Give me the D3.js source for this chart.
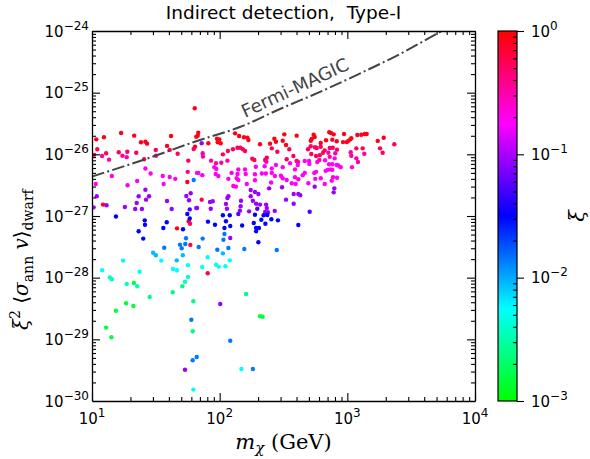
<!DOCTYPE html>
<html>
<head>
<meta charset="utf-8">
<script src="https://cdn.jsdelivr.net/npm/d3@7"></script>
<style>
  html, body { margin: 0; padding: 0; background: #fff; }
  svg { display: block; }
  text { white-space: pre; }
</style>
</head>
<body>
<svg id="chart" width="590" height="459"></svg>
<script>
// ---- data: [m_chi (GeV), xi^2 <sigma v>_dwarf] per colour band ----
const bandXi = [0.85, 0.55, 0.33, 0.19, 0.09, 0.055, 0.032, 0.014, 0.009, 0.0055, 0.0036, 0.0024, 0.0015];

const ptsRed = [[63.8,5.6e-26],[10.8,1.75e-26],[12.4,1.89e-26],[16.9,2.22e-26],[21.4,2.01e-26],[41.6,1.98e-26],[65.6,1.93e-26],[24.2,1.57e-26],[26.2,1.6e-26],[27.0,1.49e-26],[38.7,1.37e-26],[64.1,1.33e-26],[55.8,3.56e-27],[68.0,2.24e-26],[67.3,2.01e-26],[81.5,1.51e-26],[95.3,1.79e-26],[99.3,1.75e-26],[96.5,1.57e-26],[102,1.51e-26],[132,2.19e-26],[142,1.98e-26],[155,1.89e-26],[168,1.71e-26],[165,1.86e-26],[268,1.79e-26],[321,2.11e-26],[401,2.01e-26],[276,1.6e-26],[248,1.49e-26],[207,1.46e-26],[312,1.66e-26],[331,1.42e-26],[545,2.08e-26],[555,1.91e-26],[526,1.77e-26],[517,1.66e-26],[722,2.28e-26],[745,2.22e-26],[782,2.11e-26],[942,2.14e-26],[1197,2.06e-26],[1286,2.08e-26],[1368,2.14e-26],[1418,2.14e-26],[681,1.69e-26],[763,1.73e-26],[826,1.63e-26],[925,1.58e-26],[989,1.58e-26],[1018,1.65e-26],[1055,1.75e-26],[1074,1.82e-26],[1730,1.65e-26],[1927,1.86e-26],[619,1.53e-26],[12.2,1.53e-27],[57.2,8.2e-28],[46.3,6.3e-28]];

const ptsCrimson = [[40.6,1.18e-26],[62.6,1.22e-26],[11.0,1.21e-26],[31.6,1.18e-26],[12.9,1.04e-26],[16.2,1.08e-26],[18.9,1.1e-26],[22.2,1.06e-26],[10.4,9.8e-27],[46.9,1.02e-26],[25.6,8.3e-27],[56.8,7.9e-27],[256,1.25e-26],[283,1.1e-26],[351,1.21e-26],[138,1.28e-26],[145,1.28e-26],[152,1.21e-26],[158,1.13e-26],[127,1.21e-26],[116,1.13e-26],[106,1.0e-26],[180,8.5e-27],[187,8.1e-27],[234,8.8e-27],[227,8.1e-27],[378,9.4e-27],[401,7.8e-27],[335,8.3e-27],[2333,1.46e-26],[492,1.21e-26],[517,1.35e-26],[558,1.3e-26],[576,1.27e-26],[619,1.33e-26],[665,1.16e-26],[728,1.27e-26],[768,1.28e-26],[830,1.19e-26],[1176,1.25e-26],[1319,1.25e-26],[1803,1.25e-26],[1892,1.06e-26],[522,1.01e-26],[569,9.4e-27],[608,9.7e-27],[645,1.06e-26],[58.6,7.5e-28],[58.9,3.4e-28],[72.3,1.84e-27],[80.6,1.18e-28]];

const ptsPink = [[12.0,9.4e-27],[17.3,9.5e-27],[18.7,9.0e-27],[31.7,9.5e-27],[13.6,8.2e-27],[56.2,5.2e-27],[73.6,1.04e-26],[74.0,9.2e-27],[85.6,7.9e-27],[115,7.9e-27],[93.6,7.2e-27],[103,7.3e-27],[232,7.6e-27],[710,1.06e-26],[728,9.1e-27],[805,1.04e-26],[1063,1.08e-26],[1074,9.5e-27],[1176,8.6e-27],[1212,7.5e-27],[1358,1.02e-26],[603,8.1e-27],[411,7.5e-27]];

const ptsMagenta = [[26.2,5.9e-27],[28.8,4.9e-27],[14.3,4.45e-27],[35.8,4.45e-27],[40.6,4.3e-27],[44.9,4.0e-27],[22.6,3.7e-27],[36.4,3.3e-27],[19.0,3.15e-27],[10.7,3.3e-27],[66.5,5.0e-27],[90.8,6.2e-27],[94.1,5.8e-27],[192,6.3e-27],[225,6.4e-27],[256,5.9e-27],[276,6.7e-27],[312,6.2e-27],[356,7.2e-27],[389,5.7e-27],[409,6.7e-27],[140,5.7e-27],[158,5.7e-27],[68.0,5.0e-27],[73.1,4.6e-27],[93.1,4.8e-27],[97.6,4.45e-27],[124,5.0e-27],[138,4.8e-27],[160,4.8e-27],[189,4.75e-27],[214,4.9e-27],[230,4.9e-27],[256,5.0e-27],[271,4.45e-27],[302,4.5e-27],[312,4.1e-27],[335,3.84e-27],[389,4.24e-27],[413,3.94e-27],[117,4.0e-27],[136,4.1e-27],[140,3.84e-27],[189,3.8e-27],[253,3.5e-27],[367,3.4e-27],[394,3.3e-27],[163,3.3e-27],[128,3.07e-27],[134,2.99e-27],[582,7.5e-27],[464,7.8e-27],[501,7.8e-27],[504,7.0e-27],[669,8.0e-27],[719,6.9e-27],[763,6.9e-27],[796,8.6e-27],[826,6.7e-27],[850,6.6e-27],[887,6.2e-27],[702,5.6e-27],[736,5.7e-27],[763,5.6e-27],[677,5.4e-27],[1088,6.2e-27],[464,5.0e-27],[447,4.6e-27],[551,5.0e-27],[569,5.2e-27],[619,4.1e-27],[561,4.0e-27],[772,4.24e-27],[830,4.18e-27],[755,3.74e-27],[665,3.3e-27],[495,3.4e-27]];

const ptsPurple = [[26.2,2.67e-27],[72.3,1.51e-26],[308,2.92e-27],[244,2.81e-27],[555,2.99e-27],[791,2.81e-27],[10.9,2.09e-27],[10.3,1.38e-27],[13.0,1.49e-27],[18.1,1.4e-27],[23.2,2.09e-27],[26.5,1.84e-27],[28.0,2.09e-27],[22.4,1.63e-27],[21.8,1.3e-27],[24.6,1.3e-27],[38.7,1.75e-27],[42.1,1.3e-27],[54.8,2.11e-27],[59.3,2.34e-27],[57.5,1.8e-27],[65.6,1.35e-27],[84.0,1.69e-27],[88.2,1.73e-27],[66.5,1.35e-27],[85.1,1.31e-27],[112,1.57e-27],[117,2.09e-27],[115,1.96e-27],[114,1.31e-27],[147,1.77e-27],[146,1.44e-27],[144,1.22e-27],[175,2.64e-27],[175,2.09e-27],[189,2.45e-27],[201,2.28e-27],[182,1.77e-27],[193,1.58e-27],[207,1.53e-27],[231,1.53e-27],[234,1.35e-27],[170,1.19e-27],[227,1.16e-27],[239,1.15e-27],[270,1.21e-27],[331,1.84e-27],[380,2.28e-27],[380,1.58e-27],[413,2.28e-27],[121,4.4e-28],[428,2.17e-27],[782,2.42e-27],[101,3.74e-29],[53.5,3.22e-30]];

const ptsViolet = [[58.3,1.28e-27],[140,1.08e-27],[197,1.31e-27],[507,1.17e-27]];

const ptsBlue = [[55.8,1.08e-27],[15.4,9.8e-28],[25.9,8.5e-28],[26.0,7.2e-28],[38.5,7.9e-28],[36.2,6.4e-28],[51.6,6.1e-28],[58.3,9.1e-28],[23.2,5.65e-28],[25.2,4.3e-28],[221,1.03e-27],[236,1.04e-27],[189,1.05e-27],[106,1.03e-27],[120,1.03e-27],[112,8.2e-28],[81.0,8.1e-28],[91.9,7.2e-28],[121,6.9e-28],[109,6.4e-28],[150,7.0e-28],[185,7.7e-28],[212,8.7e-28],[228,7.5e-28],[254,8.85e-28],[286,8.5e-28],[413,7.15e-28],[193,6.4e-28],[203,6.4e-28],[193,5.65e-28],[201,3.75e-28]];

const ptsAzure = [[62.6,3.84e-27],[54.5,4.35e-28],[48.9,3.43e-28],[50.4,3.0e-28],[53.8,3.52e-28],[36.8,3.06e-28],[109,5.1e-28],[107,4.13e-28],[73.6,4.3e-28],[68.5,3.15e-28],[95.8,2.84e-28],[117,3.03e-28],[156,2.92e-28],[280,2.81e-28],[60.0,2.08e-29],[121,9.5e-30],[61.5,4.57e-30],[66.1,5.17e-30],[182,3.31e-30]];

const ptsSky = [[30.1,2.54e-28],[31.6,2.31e-28],[51.4,2.31e-28],[46.1,1.91e-28],[106,2.48e-28]];

const ptsCyan = [[34.9,1.89e-28],[56.5,1.59e-28],[17.5,1.89e-28],[12.0,1.32e-28],[23.6,1.25e-28],[43.1,1.38e-28],[46.3,1.32e-28],[80.6,2.14e-28],[120,1.91e-28],[93.6,1.62e-28],[98.3,1.51e-28],[111,1.53e-28],[73.1,1.49e-28],[148,3.31e-30],[62.2,1.53e-30]];

const ptsAqua = [[13.8,1.01e-28],[56.5,1.03e-28],[53.5,8.6e-29],[14.3,9.4e-29],[18.7,7.9e-29],[22.6,7.25e-29]];

const ptsSpring = [[51.0,7.25e-29],[42.9,5.8e-29],[28.3,4.86e-29],[62.2,4.14e-29],[161,5.44e-29],[61.5,1.35e-29]];

const ptsGreen = [[207,2.37e-29],[217,2.33e-29],[21.3,8.2e-29],[18.5,3.84e-29],[21.1,3.48e-29],[15.4,2.91e-29],[12.9,1.55e-29],[14.2,1.08e-29]];

const bandPoints = [ptsRed, ptsCrimson, ptsPink, ptsMagenta, ptsPurple, ptsViolet, ptsBlue, ptsAzure, ptsSky, ptsCyan, ptsAqua, ptsSpring, ptsGreen];

// Fermi-MAGIC combined dwarf limit
const fermiMass  = [10, 23.8, 70.1, 144, 297, 611, 1327, 2586, 5515, 6400];
const fermiSigma = [4.37e-27, 7.8e-27, 1.71e-26, 2.77e-26, 5.44e-26, 1.03e-25, 2.16e-25, 4.24e-25, 1.0e-24, 1.17e-24];

const xTickExp  = [1, 2, 3, 4];
const yTickExp  = [-30, -29, -28, -27, -26, -25, -24];
const cbTickExp = [-3, -2, -1, 0];

//{literal}
const plot = { left: 92, right: 475, top: 31, bottom: 401 };
const cbar = { left: 498, right: 517 };
const sansFont = "DejaVu Sans";
const serifFont = "DejaVu Serif";
const labelSize = 15, supSize = 12;

const svg = d3.select("#chart");

const x = d3.scaleLog().domain([10, 1e4]).range([plot.left, plot.right]);
const y = d3.scaleLog().domain([1e-30, 1e-24]).range([plot.bottom, plot.top]);
const cy = d3.scaleLog().domain([1e-3, 1]).range([plot.bottom, plot.top]);

// green -> cyan -> blue -> magenta -> red, linear in log(xi)
const hueScale = d3.scaleLog().domain([1e-3, 1]).range([120, 360]);
const colorOf = v => d3.hsl(hueScale(v), 1, 0.5).formatHex();

const isMajor = v => Math.abs(Math.log10(v) - Math.round(Math.log10(v))) < 1e-9;

// clip
svg.append("defs").append("clipPath").attr("id", "plotclip")
    .append("rect")
    .attr("x", plot.left).attr("y", plot.top)
    .attr("width", plot.right - plot.left)
    .attr("height", plot.bottom - plot.top);

// points
const points = [];
bandPoints.forEach((arr, i) => arr.forEach(p => points.push({ m: p[0], s: p[1], xi: bandXi[i] })));

const gPts = svg.append("g").attr("clip-path", "url(#plotclip)");
gPts.selectAll("circle")
    .data(points)
    .enter()
    .append("circle")
    .attr("cx", d => x(d.m))
    .attr("cy", d => y(d.s))
    .attr("r", 2.2)
    .attr("fill", d => colorOf(d.xi));

// Fermi-MAGIC line
const fermi = fermiMass.map((m, i) => ({ m: m, s: fermiSigma[i] }));
gPts.append("path")
    .datum(fermi)
    .attr("fill", "none")
    .attr("stroke", "#444")
    .attr("stroke-width", 2)
    .attr("stroke-dasharray", "12.8,3.2,2,3.2")
    .attr("d", d3.line().x(d => x(d.m)).y(d => y(d.s)).curve(d3.curveMonotoneX));

svg.append("text")
    .attr("transform", "translate(245,118) rotate(-25)")
    .attr("font-family", sansFont)
    .attr("font-size", 18)
    .attr("fill", "#444")
    .text("Fermi-MAGIC");

// axes: major + minor ticks, all pointing inwards
function drawAxis(axisFn, scale, translate, size, values, keepDomain) {
    const g = svg.append("g")
        .attr("transform", translate)
        .call(axisFn(scale).tickValues(values).tickSize(size).tickSizeOuter(0).tickFormat(""));
    g.selectAll("line").attr("stroke-width", 1.1);
    g.select(".domain").attr("stroke-width", 1.3);
    if (!keepDomain) g.select(".domain").remove();
    return g;
}

const xMajor = x.ticks().filter(isMajor);
const xMinor = x.ticks().filter(v => !isMajor(v));
const yMajor = y.ticks().filter(isMajor);
const yMinor = y.ticks().filter(v => !isMajor(v));

drawAxis(d3.axisBottom, x, `translate(0,${plot.bottom})`, -8, xMajor, true);
drawAxis(d3.axisBottom, x, `translate(0,${plot.bottom})`, -4, xMinor, false);
drawAxis(d3.axisTop, x, `translate(0,${plot.top})`, -8, xMajor, true);
drawAxis(d3.axisTop, x, `translate(0,${plot.top})`, -4, xMinor, false);
drawAxis(d3.axisLeft, y, `translate(${plot.left},0)`, -8, yMajor, true);
drawAxis(d3.axisLeft, y, `translate(${plot.left},0)`, -4, yMinor, false);
drawAxis(d3.axisRight, y, `translate(${plot.right},0)`, -8, yMajor, true);
drawAxis(d3.axisRight, y, `translate(${plot.right},0)`, -4, yMinor, false);

// power-of-ten tick labels
function powLabel(sel, exp) {
    sel.append("tspan").text("10");
    sel.append("tspan").attr("dy", -7).attr("font-size", supSize).text(String(exp).replace("-", "\u2212"));
}

xTickExp.forEach(e => {
    svg.append("text")
        .attr("x", x(Math.pow(10, e)))
        .attr("y", plot.bottom + 23)
        .attr("text-anchor", "middle")
        .attr("font-family", sansFont)
        .attr("font-size", labelSize)
        .call(powLabel, e);
});

yTickExp.forEach(e => {
    svg.append("text")
        .attr("x", plot.left - 3)
        .attr("y", y(Math.pow(10, e)) + 5.5)
        .attr("text-anchor", "end")
        .attr("font-family", sansFont)
        .attr("font-size", labelSize)
        .call(powLabel, e);
});

// colorbar
const grad = svg.select("defs").append("linearGradient")
    .attr("id", "cbgrad")
    .attr("x1", 0).attr("y1", 1).attr("x2", 0).attr("y2", 0);
d3.range(0, 1.0001, 0.05).forEach(t => {
    grad.append("stop")
        .attr("offset", t)
        .attr("stop-color", colorOf(Math.pow(10, -3 + 3 * t)));
});

svg.append("rect")
    .attr("x", cbar.left).attr("y", plot.top)
    .attr("width", cbar.right - cbar.left)
    .attr("height", plot.bottom - plot.top)
    .attr("fill", "url(#cbgrad)");

const cbMajor = cy.ticks().filter(isMajor);
const cbMinor = cy.ticks().filter(v => !isMajor(v));
drawAxis(d3.axisRight, cy, `translate(${cbar.right},0)`, 7, cbMajor, false);
drawAxis(d3.axisRight, cy, `translate(${cbar.right},0)`, -4, cbMinor, false);

svg.append("rect")
    .attr("x", cbar.left).attr("y", plot.top)
    .attr("width", cbar.right - cbar.left)
    .attr("height", plot.bottom - plot.top)
    .attr("fill", "none")
    .attr("stroke", "#000")
    .attr("stroke-width", 1.2);

cbTickExp.forEach(e => {
    svg.append("text")
        .attr("x", cbar.right + 14)
        .attr("y", cy(Math.pow(10, e)) + 5.5)
        .attr("font-family", sansFont)
        .attr("font-size", labelSize)
        .call(powLabel, e);
});

// colorbar label
svg.append("text")
    .attr("transform", `translate(584,${(plot.top + plot.bottom) / 2}) rotate(-90)`)
    .attr("text-anchor", "middle")
    .attr("font-family", serifFont)
    .attr("font-style", "italic")
    .attr("font-size", 21)
    .text("ξ");

// title
svg.append("text")
    .attr("x", (plot.left + plot.right) / 2)
    .attr("y", 19)
    .attr("text-anchor", "middle")
    .attr("font-family", sansFont)
    .attr("font-size", 18.5)
    .text("Indirect detection,  Type-I");

// x label: m_chi (GeV)
const xl = svg.append("text")
    .attr("x", (plot.left + plot.right) / 2)
    .attr("y", 449)
    .attr("text-anchor", "middle")
    .attr("font-family", serifFont)
    .attr("font-size", 21);
xl.append("tspan").attr("font-style", "italic").text("m");
xl.append("tspan").attr("dy", 4).attr("font-size", 15).attr("font-style", "italic").text("χ");
xl.append("tspan").attr("dy", -4).text(" (GeV)");

// y label: xi^2 <sigma_ann v>_dwarf
const yl = svg.append("text")
    .attr("transform", "translate(28,330) rotate(-90)")
    .attr("font-family", serifFont)
    .attr("font-size", 20);
yl.append("tspan").attr("font-style", "italic").text("ξ");
yl.append("tspan").attr("dy", -8).attr("font-size", 14).text("2");
yl.append("tspan").attr("dy", 8).text(" ⟨");
yl.append("tspan").attr("font-style", "italic").text("σ");
yl.append("tspan").attr("dy", 5).attr("font-size", 14).text("ann");
yl.append("tspan").attr("dy", -5).attr("font-style", "italic").text(" v");
yl.append("tspan").text("⟩");
yl.append("tspan").attr("dy", 5).attr("font-size", 14).text("dwarf");
//{/literal}
</script>
</body>
</html>
